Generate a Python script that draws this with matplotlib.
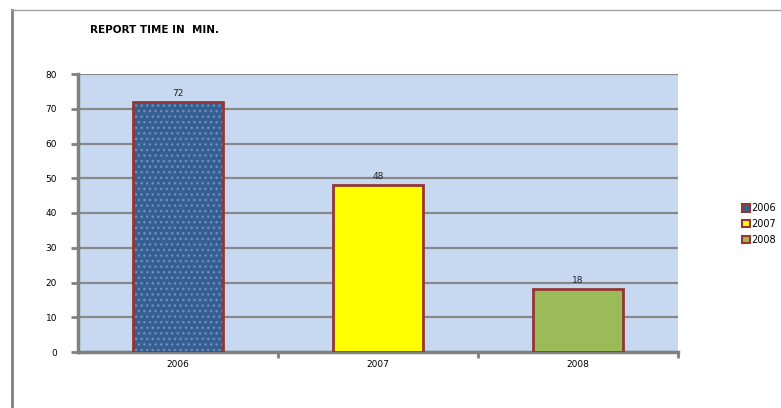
import matplotlib
matplotlib.use("Agg")
import matplotlib.pyplot as plt
from matplotlib.lines import Line2D
from matplotlib.patches import Patch

categories = ["2006", "2007", "2008"]
values = [72, 48, 18]
colors = ["#365F91", "#FFFF00", "#9BBB59"]
edge = "#943634"
title = "REPORT TIME IN  MIN."

fig = plt.figure(figsize=(7.81, 4.08), dpi=100)
ax = fig.add_axes([78/781, 1-352/408, 600/781, (352-74)/408])
ax.set_facecolor("#C6D9F0")

x = list(range(len(categories)))
ax.bar(x, values, width=0.45, color=colors, linewidth=0, zorder=3)
# subtle dotted texture on the first bar
ax.bar(x[:1], values[:1], width=0.45, facecolor="none", edgecolor="#6F8FBF",
       hatch="...", linewidth=0, zorder=3.5)
ax.bar(x, values, width=0.45, facecolor="none", edgecolor=edge, linewidth=2, zorder=4)
for xi, v in zip(x, values):
    ax.text(xi, v + 1.2, str(v), ha="center", va="bottom", fontsize=6.5, color="#222222", zorder=5)

ax.set_xlim(-0.5, 2.5)
ax.set_ylim(0, 80)
ax.set_yticks(range(0, 81, 10))
ax.yaxis.grid(True, color="#888888", linewidth=1.6, zorder=1)
ax.set_axisbelow(True)
ax.set_xticks(x)
ax.set_xticklabels(categories, fontsize=6.5)
ax.tick_params(axis="x", length=0, pad=6)
ax.set_xticks([0.5, 1.5, 2.5], minor=True)
ax.tick_params(axis="x", which="minor", length=4, width=2, color="#808080", direction="out")
ax.tick_params(axis="y", labelsize=6.5, length=5, width=2, color="#808080", direction="out", pad=10)
for s in ["top", "right"]:
    ax.spines[s].set_visible(False)
for s in ["left", "bottom"]:
    ax.spines[s].set_color("#808080")
    ax.spines[s].set_linewidth(2.5)

# outer frame lines
fig.add_artist(Line2D([12/781, 12/781], [0, 1-10/408], transform=fig.transFigure, color="#808080", linewidth=2))
fig.add_artist(Line2D([12/781, 1], [1-10/408, 1-10/408], transform=fig.transFigure, color="#A0A0A0", linewidth=1))

fig.text(90/781, 1-30/408, title, fontsize=7.5, fontweight="bold", va="center", ha="left")

handles = [Patch(facecolor=c, edgecolor=edge, linewidth=1.5) for c in colors]
fig.legend(handles, categories, loc="center left", bbox_to_anchor=(738/781, 1-224/408),
           frameon=False, fontsize=7, handlelength=0.8, handleheight=0.8,
           handletextpad=0.2, labelspacing=0.6, borderaxespad=0)

fig.savefig("out.png", dpi=100)
